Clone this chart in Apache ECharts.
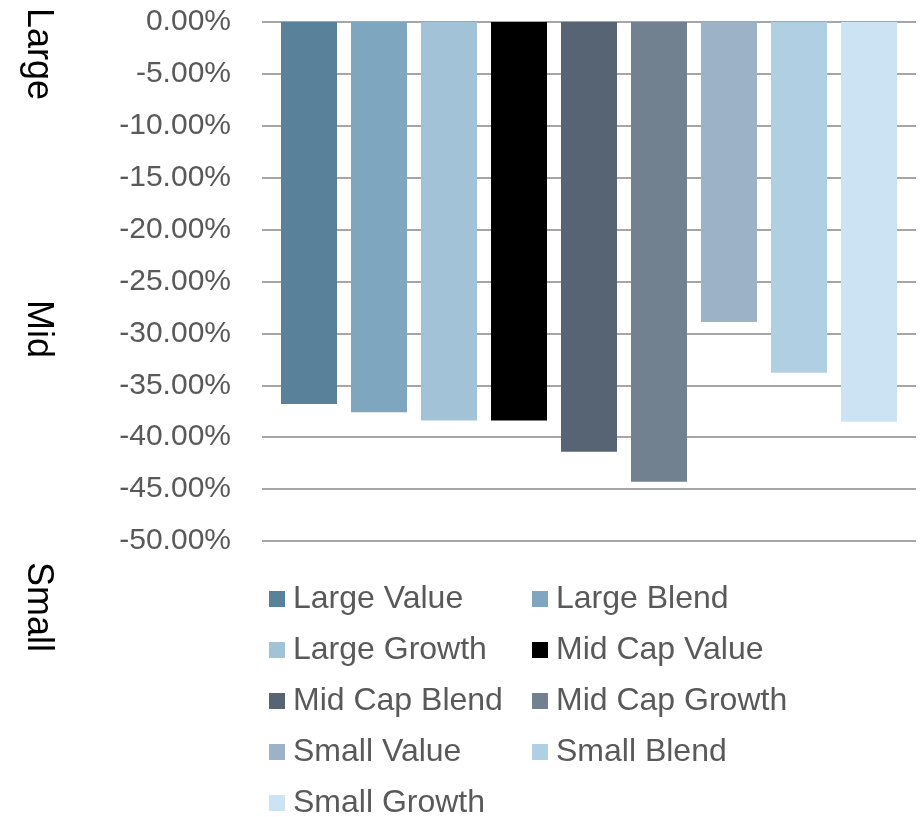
<!DOCTYPE html>
<html>
<head>
<meta charset="utf-8">
<script src="https://cdn.jsdelivr.net/npm/echarts@6/dist/echarts.min.js"></script>
<style>
html,body{margin:0;padding:0;background:#fff;}
#chart{width:921px;height:817px;}
</style>
</head>
<body>
<div id="chart"></div>
<script>
const seriesNames = ['Large Value','Large Blend','Large Growth','Mid Cap Value','Mid Cap Blend','Mid Cap Growth','Small Value','Small Blend','Small Growth'];
const seriesValues = [-36.8, -37.6, -38.4, -38.4, -41.4, -44.3, -28.9, -33.8, -38.5];
const seriesColors = ['#5a819a','#7ea6bf','#a2c2d7','#000000','#566473','#72818f','#9cb2c6','#b0cfe2','#cce3f4'];
const categories = [''];
const sideLabels = ['Large','Mid','Small'];
const legendCol1 = ['Large Value','Large Growth','Mid Cap Blend','Small Value','Small Growth'];
const legendCol2 = ['Large Blend','Mid Cap Value','Mid Cap Growth','Small Blend'];

const chart = echarts.init(document.getElementById('chart'));
const font = 'Liberation Sans, Arial, sans-serif';
const legendCommon = {
  orient: 'vertical',
  icon: 'rect',
  itemWidth: 16,
  itemHeight: 16,
  itemGap: 19,
  height: 300,
  padding: 0,
  textStyle: {fontFamily: font, fontSize: 32, lineHeight: 32, color: '#595959', padding: [0,0,0,3]},
  selectedMode: false
};
const sideY = [54, 329, 607];
chart.setOption({
  animation: false,
  grid: {left: 262, right: 5, top: 22, bottom: 276, containLabel: false},
  legend: [
    Object.assign({left: 269, top: 583, data: legendCol1}, legendCommon),
    Object.assign({left: 532, top: 583, data: legendCol2}, legendCommon)
  ],
  xAxis: {
    type: 'category', data: categories, position: 'top',
    axisLine: {show: false}, axisTick: {show: false}, axisLabel: {show: false}
  },
  yAxis: {
    type: 'value', min: -50, max: 0, interval: 5,
    axisLine: {show: false}, axisTick: {show: false},
    axisLabel: {fontFamily: font, fontSize: 30, color: '#595959', margin: 31,
      formatter: v => v.toFixed(2) + '%'},
    splitLine: {lineStyle: {color: '#a6a6a6', width: 2}}
  },
  series: seriesNames.map((n, i) => ({
    name: n, type: 'bar', data: [seriesValues[i]],
    barWidth: 56, barGap: '25%',
    itemStyle: {color: seriesColors[i]}
  })),
  graphic: sideLabels.map((t, i) => ({
    type: 'text', x: 38, y: sideY[i], rotation: -Math.PI/2,
    style: {text: t, fontFamily: font, fontSize: 36, fill: '#000', align: 'center', verticalAlign: 'middle'}
  }))
});
</script>
</body>
</html>
